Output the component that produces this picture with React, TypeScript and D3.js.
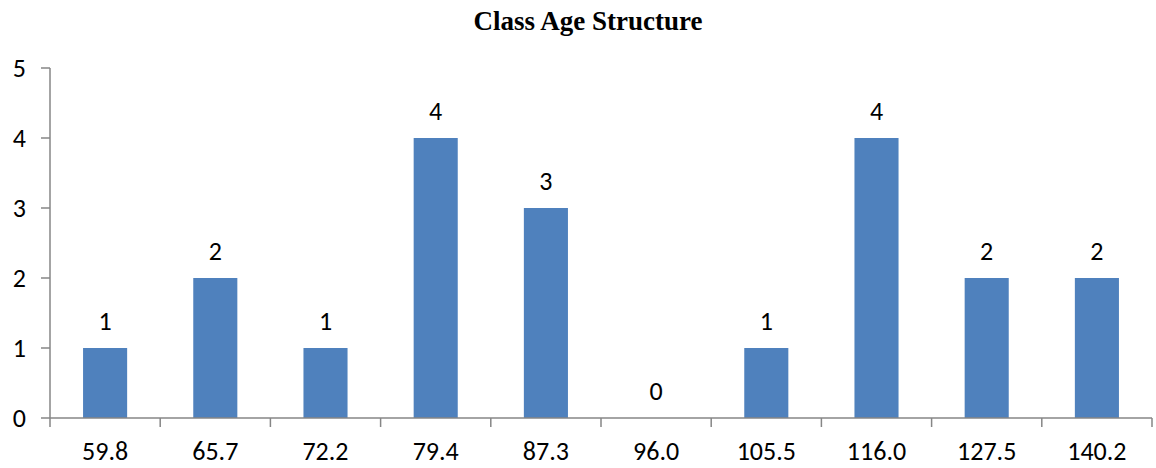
import React from "react";
import * as d3 from "d3";

const categories = ["59.8", "65.7", "72.2", "79.4", "87.3", "96.0", "105.5", "116.0", "127.5", "140.2"];
const counts = [1, 2, 1, 4, 3, 0, 1, 4, 2, 2];
const yTicks = [0, 1, 2, 3, 4, 5];

const W = 1156;
const H = 468;
const margin = { left: 50, right: 4, top: 68, bottom: 50 };
const labelFont = "Carlito, Calibri, Lato, 'Open Sans', sans-serif";
const axisColor = "#868686";

export default function App() {
  const x = d3
    .scaleBand<string>()
    .domain(categories)
    .range([margin.left, W - margin.right])
    .padding(0);
  const y = d3.scaleLinear().domain([0, 5]).range([H - margin.bottom, margin.top]);
  const bw = x.bandwidth();
  const barW = bw * 0.4;
  const y0 = y(0);

  return (
    <svg width={W} height={H} style={{ position: "absolute", left: 0, top: 0, background: "#fff" }}>
      <text
        x={588}
        y={30}
        textAnchor="middle"
        fontFamily="'Liberation Serif', 'Times New Roman', serif"
        fontWeight="bold"
        fontSize={27}
      >
        Class Age Structure
      </text>

      {/* value axis */}
      <line x1={margin.left} x2={margin.left} y1={y(5)} y2={y0} stroke={axisColor} strokeWidth={1.5} />
      {yTicks.map((t) => (
        <g key={t}>
          <line x1={margin.left - 9} x2={margin.left} y1={y(t)} y2={y(t)} stroke={axisColor} strokeWidth={1.5} />
          <text x={26} y={y(t)} dy="0.33em" textAnchor="end" fontFamily={labelFont} fontSize={26} fill="#000">
            {t}
          </text>
        </g>
      ))}

      {/* bars */}
      {categories.map((c, i) => {
        const cx = (x(c) as number) + bw / 2;
        return (
          <g key={c}>
            {counts[i] > 0 && (
              <rect x={cx - barW / 2} y={y(counts[i])} width={barW} height={y0 - y(counts[i])} fill="#4F81BD" />
            )}
            <text
              x={cx}
              y={y(counts[i]) - 18.5}
              textAnchor="middle"
              fontFamily={labelFont}
              fontSize={26}
              fill="#000"
            >
              {counts[i]}
            </text>
            <text x={cx} y={460} textAnchor="middle" fontFamily={labelFont} fontSize={26} fill="#000">
              {c}
            </text>
          </g>
        );
      })}

      {/* category axis */}
      <line x1={margin.left} x2={W - margin.right} y1={y0} y2={y0} stroke={axisColor} strokeWidth={1.5} />
      {[...categories.map((c) => x(c) as number), W - margin.right].map((px, i) => (
        <line key={i} x1={px} x2={px} y1={y0} y2={y0 + 9} stroke={axisColor} strokeWidth={1.5} />
      ))}
    </svg>
  );
}
